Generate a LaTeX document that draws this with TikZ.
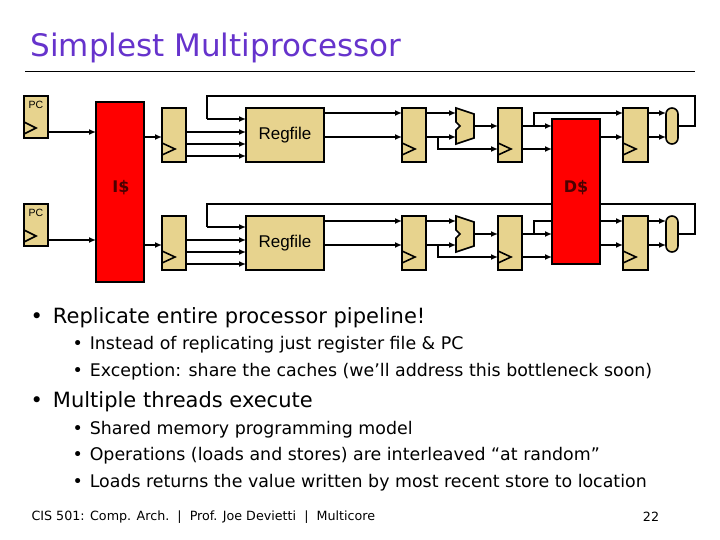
\documentclass[tikz,border=0pt]{standalone}
\usepackage{fontspec}
\setmainfont{DejaVu Sans}
\setsansfont{Liberation Sans}
\usetikzlibrary{arrows.meta,calc}
\definecolor{tan}{RGB}{231,211,142}
\definecolor{ttl}{RGB}{102,51,204}
\begin{document}
\begin{tikzpicture}[x=1pt,y=-1pt,
  blk/.style={draw,line width=1.6pt,fill=tan,inner sep=0pt},
  cache/.style={draw,line width=1.6pt,fill=red,inner sep=0pt},
  lab/.style={font=\fontsize{16}{16}\selectfont\bfseries,text=black!70!red},
  wire/.style={line width=1.4pt},
  arr/.style={wire,-{Latex[length=7pt,width=6pt]}},
  clkm/.style={line width=1.6pt},
  sub/.style={anchor=west,font=\fontsize{17.4}{17.4}\selectfont},
  big/.style={anchor=west,font=\fontsize{21}{21}\selectfont}]
\useasboundingbox (0,0) rectangle (720,540);
% title
\node[anchor=west,text=ttl,font=\fontsize{31}{31}\selectfont] (title) at (27,48) {Simplest Multiprocessor};
\draw[line width=1pt] (25,72) -- (695,72);
% I$
\node[cache,minimum width=48pt,minimum height=180pt] (ic) at (120,192) {};
\node[lab] (icl) at (121,188) {I\$};
\foreach \o/\s in {0/a,108/b}{
\begin{scope}[shift={(0,\o)}]
 \node[blk,minimum width=24pt,minimum height=42pt] (pc\s) at (36,117) {};
 \node[font=\fontsize{10.5}{10.5}\selectfont\sffamily] (pcl\s) at (36,105) {PC};
 \draw[clkm] (24,122) -- (36,128) -- (24,134);
 \node[blk,minimum width=24pt,minimum height=54pt] (ra\s) at (174,135) {};
 \draw[clkm] (162,143) -- (175,149) -- (162,155);
 \node[blk,minimum width=78pt,minimum height=54pt,font=\fontsize{17}{17}\selectfont\sffamily] (rf\s) at (285,135) {Regfile};
 \node[blk,minimum width=24pt,minimum height=54pt] (rb\s) at (414,135) {};
 \draw[clkm] (402,143) -- (415,149) -- (402,155);
 \draw[blk] (456,108) -- (474,114) -- (474,138) -- (456,144) -- (456,130) -- (460,126) -- (456,122) -- cycle;
 \node[blk,minimum width=24pt,minimum height=54pt] (rc\s) at (510,135) {};
 \draw[clkm] (498,143) -- (511,149) -- (498,155);
 \node[blk,minimum width=25pt,minimum height=54pt] (rd\s) at (635.5,135) {};
 \draw[clkm] (623,143) -- (636,149) -- (623,155);
 \node[blk,rounded corners=6pt,minimum width=12pt,minimum height=36pt] (mx\s) at (672,126) {};
 % wires
 \draw[arr] (48,132) -- (96,132);
 \draw[arr] (144,137) -- (162,137);
 \foreach \y in {132,144,156} \draw[arr] (186,\y) -- (246,\y);
 \draw[wire] (678,126) -- (695,126) -- (695,96) -- (207,96) -- (207,119);
 \draw[arr] (207,119) -- (246,119);
 \draw[arr] (324,113) -- (402,113);
 \draw[arr] (324,137) -- (402,137);
 \draw[arr] (426,113) -- (456,113);
 \draw[arr] (426,137) -- (456,137);
 \draw[arr] (438,137) -- (438,149) -- (498,149);
 \draw[arr] (474,126) -- (498,126);
 \draw[arr] (522,126) -- (552,126);
 \draw[arr] (534,126) -- (534,113) -- (623,113);
 \draw[arr] (522,149) -- (552,149);
 \draw[arr] (600,137) -- (623,137);
 \draw[arr] (648,113) -- (666,113);
 \draw[arr] (648,137) -- (666,137);
\end{scope}}
% D$
\node[cache,minimum width=48pt,minimum height=145pt] (dc) at (576,191.5) {};
\node[lab] (dcl) at (576,188) {D\$};
% text
\node[big] (b1) at (27,318) {•\hspace{10pt}Replicate entire processor pipeline!};
\node[sub] (s1) at (69,345) {•\hspace{7pt}Instead of replicating just register file \& PC};
\node[sub] (s2) at (69,372) {•\hspace{7pt}Exception: share the caches (we’ll address this bottleneck soon)};
\node[big] (b2) at (27,402) {•\hspace{10pt}Multiple threads execute};
\node[sub] (s3) at (69,430) {•\hspace{7pt}Shared memory programming model};
\node[sub] (s4) at (69,456) {•\hspace{7pt}Operations (loads and stores) are interleaved “at random”};
\node[sub] (s5) at (69,483) {•\hspace{7pt}Loads returns the value written by most recent store to location};
\node[anchor=west,font=\fontsize{12.7}{12.7}\selectfont] (ft) at (28,517) {CIS 501: Comp. Arch.\ \ |\ \ Prof. Joe Devietti\ \ |\ \ Multicore};
\node[font=\fontsize{12.7}{12.7}\selectfont] (pg) at (651,517) {22};
\end{tikzpicture}
\end{document}
